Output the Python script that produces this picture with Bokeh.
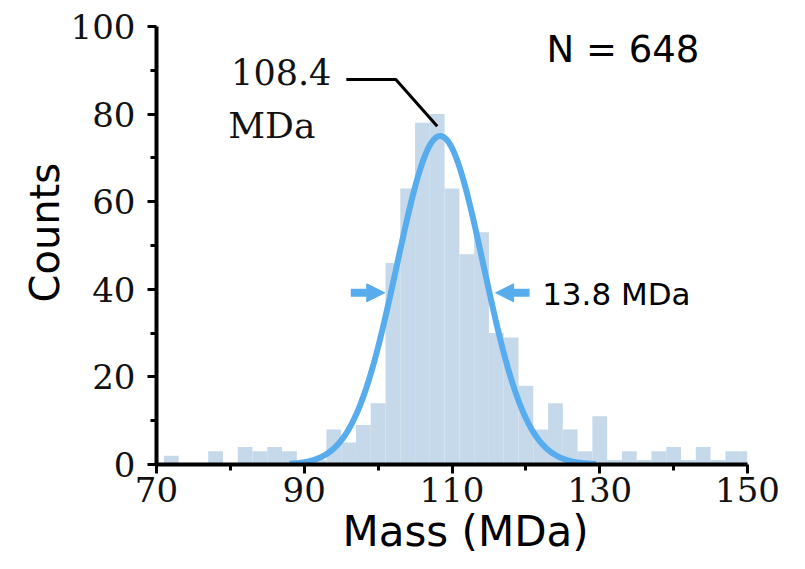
import numpy as np
from bokeh.plotting import figure
from bokeh.models import Range1d, FixedTicker, Label, Arrow, NormalHead, Title
from bokeh.embed import file_html
from bokeh.resources import INLINE

# ---- data ----
bin_centers = [72, 74, 76, 78, 80, 82, 84, 86, 88, 90, 92, 94, 96, 98, 100,
               102, 104, 106, 108, 110, 112, 114, 116, 118, 120, 122, 124,
               126, 128, 130, 132, 134, 136, 138, 140, 142, 144, 146, 148, 150]
counts = [2, 0, 0, 3, 0, 4, 3, 4, 3, 1, 1, 8, 5, 9, 14,
          46, 63, 78, 80, 63, 48, 53, 30, 29, 18, 8, 14,
          8, 3, 11, 1, 3, 1, 3, 4, 1, 4, 1, 3, 3]
bin_width = 2.0

fit_mean = 108.4      # MDa
fit_fwhm = 13.8       # MDa
fit_amplitude = 75.0  # counts
fit_range = (88.0, 129.5)

x_major = [70, 90, 110, 130, 150]
x_minor = [80, 100, 120, 140]
y_major = [0, 20, 40, 60, 80, 100]
y_minor = [10, 30, 50, 70, 90]

x_title = "Mass (MDa)"
y_title = "Counts"
n_label = "N = 648"
peak_label_1 = "108.4"
peak_label_2 = "MDa"
fwhm_label = "13.8 MDa"

BAR = "#c6d9eb"
BLUE = "#57acee"
SANS = "DejaVu Sans"
SERIF = "DejaVu Serif"

p = figure(frame_width=591, frame_height=438,
           min_border_left=156, min_border_top=26,
           min_border_right=36, min_border_bottom=90,
           x_range=Range1d(70, 150), y_range=Range1d(0, 100),
           output_backend="svg", toolbar_location=None,
           background_fill_color="white", border_fill_color="white")
p.outline_line_color = None
p.grid.visible = False

# histogram
p.vbar(x=bin_centers, width=bin_width, top=counts, bottom=0,
       fill_color=BAR, line_color=None)

# gaussian fit curve
sigma = fit_fwhm / (2.0 * np.sqrt(2.0 * np.log(2.0)))
xs = np.linspace(fit_range[0], fit_range[1], 300)
ys = fit_amplitude * np.exp(-0.5 * ((xs - fit_mean) / sigma) ** 2)
p.line(xs, ys, line_color=BLUE, line_width=6)

# axes styling
for ax in (p.xaxis[0], p.yaxis[0]):
    ax.axis_line_width = 4
    ax.axis_line_color = "black"
    ax.major_tick_line_width = 3
    ax.minor_tick_line_width = 3
    ax.major_tick_line_color = "black"
    ax.minor_tick_line_color = "black"
    ax.major_tick_in = 0
    ax.minor_tick_in = 0
    ax.major_tick_out = 9
    ax.minor_tick_out = 6
    ax.major_label_text_font = SERIF
    ax.major_label_text_font_size = "34px"
    ax.major_label_text_color = "#111111"

p.xaxis[0].ticker = FixedTicker(ticks=x_major, minor_ticks=x_minor)
p.yaxis[0].ticker = FixedTicker(ticks=y_major, minor_ticks=y_minor)
p.xaxis[0].major_label_standoff = 3
p.yaxis[0].major_label_standoff = 12

# axis titles
p.add_layout(Title(text=x_title, text_font=SANS, text_font_size="42px",
                   text_font_style="normal", align="left", offset=186,
                   standoff=0, text_color="black"), "below")
p.add_layout(Title(text=y_title, text_font=SANS, text_font_size="40px",
                   text_font_style="normal", align="left", offset=162,
                   standoff=0, text_color="black"), "left")

# annotations
p.add_layout(Label(x=122.8, y=94.7, text=n_label, text_font=SANS,
                   text_font_size="37px", text_align="left",
                   text_baseline="middle", text_color="black"))
p.add_layout(Label(x=80.1, y=89.5, text=peak_label_1, text_font=SERIF,
                   text_font_size="35px", text_align="left",
                   text_baseline="middle", text_color="#111111"))
p.add_layout(Label(x=79.7, y=77.4, text=peak_label_2, text_font=SERIF,
                   text_font_size="36px", text_align="left",
                   text_baseline="middle", text_color="#111111"))
p.add_layout(Label(x=122.2, y=39.0, text=fwhm_label, text_font=SANS,
                   text_font_size="31px", text_align="left",
                   text_baseline="middle", text_color="black"))

# leader line to the peak
p.line([95.7, 102.4, 108.0], [87.9, 87.9, 77.2], line_color="black", line_width=3)

# FWHM arrows
half = fit_fwhm / 2.0
arrow_y = 39.2
p.add_layout(Arrow(end=NormalHead(size=18, fill_color=BLUE, line_color=BLUE),
                   x_start=fit_mean - half - 5.2, y_start=arrow_y,
                   x_end=fit_mean - half - 0.6, y_end=arrow_y,
                   line_color=BLUE, line_width=8))
p.add_layout(Arrow(end=NormalHead(size=18, fill_color=BLUE, line_color=BLUE),
                   x_start=fit_mean + half + 5.2, y_start=arrow_y,
                   x_end=fit_mean + half + 0.6, y_end=arrow_y,
                   line_color=BLUE, line_width=8))

open("out.html", "w").write(file_html(p, INLINE))
